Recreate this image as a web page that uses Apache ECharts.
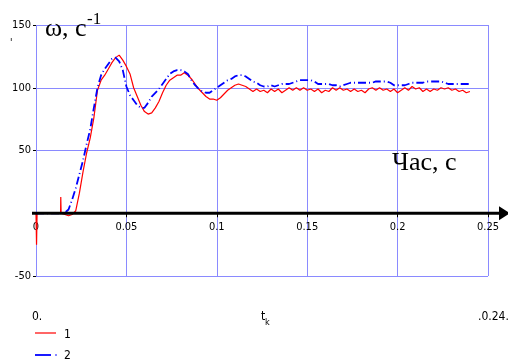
<!DOCTYPE html>
<html>
<head>
<meta charset="utf-8">
<script src="https://cdn.jsdelivr.net/npm/echarts@6/dist/echarts.min.js"></script>
<style>
html,body{margin:0;padding:0;background:#fff;}
#c{width:508px;height:360px;}
</style>
</head>
<body>
<div id="c"></div>
<script>
// time grid step (s)
var tStep = 0.002;

// series 1 (red, solid) values on the time grid
var w1 = [
  0, 0, 0, 0, 0, 0, 0, 0, -1, -2,
  -1, 2, 16, 33, 48, 60, 76, 98, 106, 110,
  115, 120, 124, 126, 122, 117, 111, 100, 93, 86,
  81, 79, 80, 84, 89, 96, 102, 106, 108, 110,
  110, 112, 110, 107, 103, 99, 96, 93, 91, 91,
  90, 92, 95, 98, 100, 102, 103, 102, 101, 99,
  97, 99, 97, 98, 96, 99, 97, 99, 96, 98,
  100, 98, 100, 98, 100, 98, 99, 97, 99, 96,
  98, 97, 100, 98, 100, 98, 99, 97, 99, 97,
  98, 96, 99, 100, 98, 100, 98, 99, 97, 99,
  96, 98, 100, 98, 101, 99, 100, 97, 99, 97,
  99, 98, 100, 99, 100, 98, 99, 97, 98, 96,
  97
];
// extra short spikes of series 1 [t, value]
var w1Spikes = [[0.0003, -25], [0.0006, 0], [0.0136, 0], [0.0137, 13], [0.0139, 0]];

// series 2 (blue, dashed) values on the time grid
var w2 = [
  0, 0, 0, 0, 0, 0, 0, 0, 0.5, 3,
  11, 20, 31, 42, 55, 67, 84, 100, 110, 115,
  119, 123, 124, 121, 114, 101, 94, 90, 86, 84,
  84, 88, 93, 96, 99, 103, 107, 111, 113, 114,
  114, 113, 111, 106, 102, 99, 97, 96, 96, 98,
  100, 102, 104, 106, 107, 109, 110, 110, 109, 107,
  105, 104, 102, 101, 101, 102, 101, 102, 103, 103,
  103, 104, 105, 106, 106, 106, 106, 105, 103, 103,
  103, 103, 102, 102, 101, 102, 103, 104, 104, 104,
  104, 104, 104, 104, 105, 105, 105, 105, 104, 102,
  102, 102, 102, 103, 104, 104, 104, 104, 105, 105,
  105, 105, 105, 104, 103, 103, 103, 103, 103, 103,
  103
];

var seriesNames = ['1', '2'];
var xTicks = ['0', '0.05', '0.1', '0.15', '0.2', '0.25'];
var yTicks = ['-50', '', '50', '100', '150'];

function pairs(vals) {
  var out = [];
  for (var i = 0; i < vals.length; i++) out.push([+(i * tStep).toFixed(4), vals[i]]);
  return out;
}
var d1 = pairs(w1).concat(w1Spikes).sort(function (a, b) { return a[0] - b[0]; });
var d2 = pairs(w2);

var gridColor = '#8a8aff';
var narrow = '"Liberation Sans Narrow","DejaVu Sans Condensed","Liberation Sans",sans-serif';
var serif = '"Liberation Serif","DejaVu Serif",serif';

var gridBottom = 84;
var chart = echarts.init(document.getElementById('c'), null, {renderer: 'canvas'});
function buildOption(xOffset) {
  return {
    animation: false,
    backgroundColor: '#fff',
    grid: {left: 36, right: 20, top: 25, bottom: gridBottom, containLabel: false},
    xAxis: {
      type: 'value', min: 0, max: 0.25, interval: 0.05, offset: xOffset,
      axisLine: {show: true, onZero: false, lineStyle: {color: '#000', width: 0}},
      axisTick: {show: true, length: 4, inside: false, lineStyle: {color: '#000', width: 1}},
      axisLabel: {
        margin: 8, color: '#000', fontFamily: narrow, fontSize: 11,
        formatter: function (v) { var i = Math.round(v / 0.05); return xTicks[i]; }
      },
      splitLine: {show: true, lineStyle: {color: gridColor, width: 1}}
    },
    yAxis: {
      type: 'value', min: -50, max: 150, interval: 50,
      axisLine: {show: false},
      axisTick: {show: true, length: 3, lineStyle: {color: '#000', width: 1}},
      axisLabel: {
        margin: 5, color: '#000', fontFamily: narrow, fontSize: 11,
        formatter: function (v) { var i = Math.round((v + 50) / 50); return yTicks[i]; }
      },
      splitLine: {show: true, lineStyle: {color: gridColor, width: 1}}
    },
    series: [
      {name: seriesNames[0], type: 'line', data: d1, showSymbol: false, symbol: 'none', z: 3,
        lineStyle: {color: '#ff0000', width: 1.2}},
      {name: seriesNames[1], type: 'line', data: d2, showSymbol: false, symbol: 'none', z: 4,
        lineStyle: {color: '#0000ff', width: 1.8, type: [8, 3, 1, 3]}}
    ]
  };
}
chart.setOption(buildOption(0));

var o = chart.convertToPixel({gridIndex: 0}, [0, 0]);
var bottomEdge = chart.convertToPixel({gridIndex: 0}, [0, -50]);
var top = chart.convertToPixel({gridIndex: 0}, [0, 150]);
var bot = chart.convertToPixel({gridIndex: 0}, [0, -45]);
var x0 = o[0], y0 = o[1];

chart.setOption(buildOption(-(bottomEdge[1] - y0)));

chart.setOption({
  graphic: [
    // x axis (black, thick, arrow)
    {type: 'line', z: 50, shape: {x1: x0 - 4, y1: y0, x2: 502, y2: y0}, style: {stroke: '#000', lineWidth: 3}},
    {type: 'polygon', z: 50, shape: {points: [[499, y0 - 7], [510, y0], [499, y0 + 7]]}, style: {fill: '#000'}},
    // y axis (black, thick, arrow)
    {type: 'line', z: 50, shape: {x1: x0, y1: bot[1], x2: x0, y2: top[1] - 2}, style: {stroke: '#000', lineWidth: 3}},
    {type: 'polygon', z: 50, shape: {points: [[x0 - 6, top[1] - 1], [x0, top[1] - 16], [x0 + 6, top[1] - 1]]}, style: {fill: '#000'}},
    // axis titles
    {type: 'text', z: 60, left: 45, top: 16, style: {text: 'ω, с', font: '26px ' + serif, fill: '#000'}},
    {type: 'text', z: 60, left: 87, top: 11, style: {text: '-1', font: '17px ' + serif, fill: '#000'}},
    {type: 'text', z: 60, left: 392, top: 150, style: {text: 'Час, с', font: '26px ' + serif, fill: '#000'}},
    {type: 'text', z: 60, left: 10, top: 38, style: {text: "'", font: '10px ' + narrow, fill: '#000'}},
    // range markers
    {type: 'text', z: 60, left: 32, top: 311, style: {text: '0.', font: '12px ' + narrow, fill: '#000'}},
    {type: 'text', z: 60, left: 261, top: 311, style: {text: 't', font: '12px ' + narrow, fill: '#000'}},
    {type: 'text', z: 60, left: 265, top: 318, style: {text: 'k', font: '9px ' + narrow, fill: '#000'}},
    {type: 'text', z: 60, left: 478, top: 311, style: {text: '.0.24.', font: '12px ' + narrow, fill: '#000'}},
    // legend
    {type: 'line', z: 60, shape: {x1: 35, y1: 333, x2: 56, y2: 333}, style: {stroke: '#ff0000', lineWidth: 1.2}},
    {type: 'text', z: 60, left: 64, top: 329, style: {text: seriesNames[0], font: '12px ' + narrow, fill: '#000'}},
    {type: 'line', z: 60, shape: {x1: 35, y1: 355, x2: 51, y2: 355}, style: {stroke: '#0000ff', lineWidth: 1.8}},
    {type: 'line', z: 60, shape: {x1: 55, y1: 355, x2: 57, y2: 355}, style: {stroke: '#8888ff', lineWidth: 1.8}},
    {type: 'text', z: 60, left: 64, top: 350, style: {text: seriesNames[1], font: '12px ' + narrow, fill: '#000'}}
  ]
});
</script>
</body>
</html>
